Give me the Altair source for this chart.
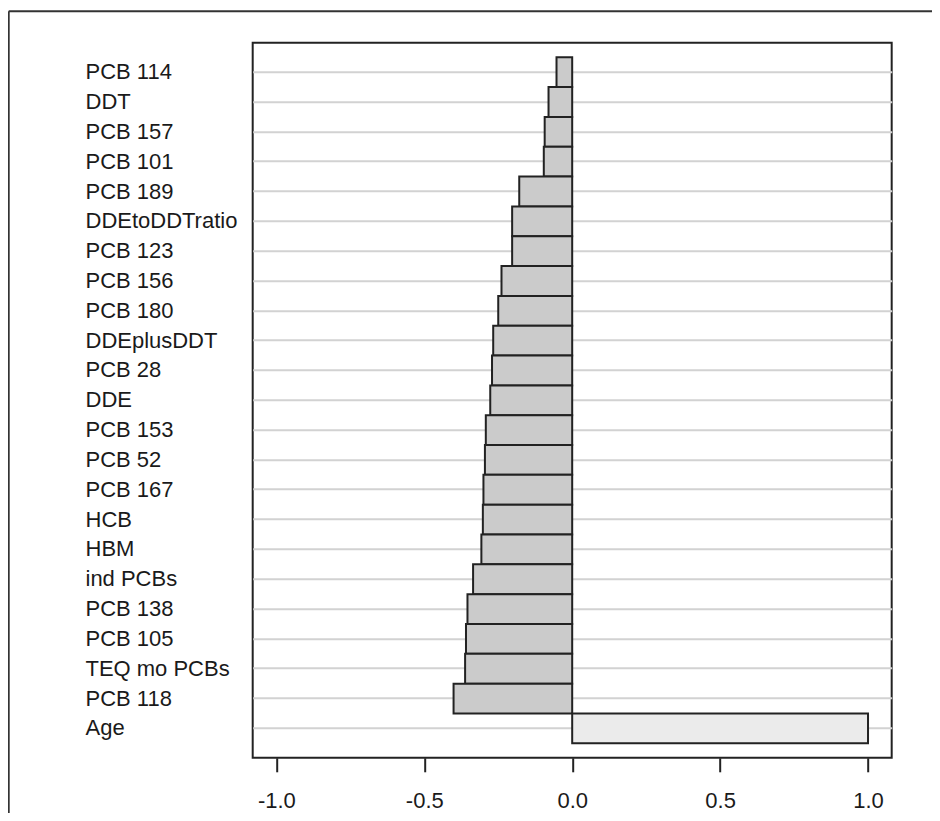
import altair as alt
import pandas as pd

categories = ["PCB 114", "DDT", "PCB 157", "PCB 101", "PCB 189", "DDEtoDDTratio",
              "PCB 123", "PCB 156", "PCB 180", "DDEplusDDT", "PCB 28", "DDE",
              "PCB 153", "PCB 52", "PCB 167", "HCB", "HBM", "ind PCBs",
              "PCB 138", "PCB 105", "TEQ mo PCBs", "PCB 118", "Age"]
values = [-0.053, -0.080, -0.093, -0.096, -0.179, -0.203, -0.203, -0.239, -0.250,
          -0.267, -0.271, -0.277, -0.292, -0.295, -0.300, -0.302, -0.307, -0.335,
          -0.354, -0.359, -0.362, -0.401, 1.0]
x_ticks = [-1.0, -0.5, 0.0, 0.5, 1.0]

df = pd.DataFrame({"name": categories, "value": values})
one = pd.DataFrame({"a": [0]})

FONT = "Liberation Sans"

ycat = alt.Y(
    "name:N", sort=categories, title=None,
    scale=alt.Scale(paddingInner=0, paddingOuter=0.485),
    axis=alt.Axis(
        labelAlign="left", labelPadding=167.7, ticks=False, tickSize=0,
        domain=False, grid=True, bandPosition=0.5, gridColor="#d2d2d2",
        gridWidth=2, labelFontSize=22, labelFont=FONT, labelColor="#1a1a1a",
        labelBaseline="middle",
    ),
)

bars = alt.Chart(df).mark_bar(stroke="#222222", strokeWidth=2).encode(
    y=ycat,
    x=alt.X(
        "value:Q", title=None,
        scale=alt.Scale(domain=[-1.08, 1.08], nice=False, zero=False),
        axis=alt.Axis(
            values=x_ticks, grid=False, domain=False, ticks=True, tickSize=14,
            tickWidth=2, tickColor="#222222", labelPadding=19,
            labelFontSize=22, labelFont=FONT, labelColor="#1a1a1a",
            labelExpr="(datum.value < 0 ? '-' : '') + format(abs(datum.value), '.1f')",
        ),
    ),
    x2=alt.datum(0),
    fill=alt.condition("datum.value > 0", alt.value("#ebebeb"), alt.value("#cbcbcb")),
)

frame_top = alt.Chart(one).mark_rule(color="#333333", strokeWidth=2).encode(
    x=alt.value(-244), x2=alt.value(700), y=alt.value(-31.6)
)
frame_left = alt.Chart(one).mark_rule(color="#333333", strokeWidth=2).encode(
    x=alt.value(-244), y=alt.value(-31.6), y2=alt.value(800)
)

chart = alt.layer(bars, frame_top, frame_left).properties(
    width=639, height=715,
    autosize=alt.AutoSizeParams(type="none"),
    padding={"left": 244.7, "top": 34.8, "right": 40, "bottom": 55.2},
    background="white",
).configure_view(stroke="#222222", strokeWidth=2)

chart.save("out.html", embed_options={"renderer": "svg", "actions": False})
